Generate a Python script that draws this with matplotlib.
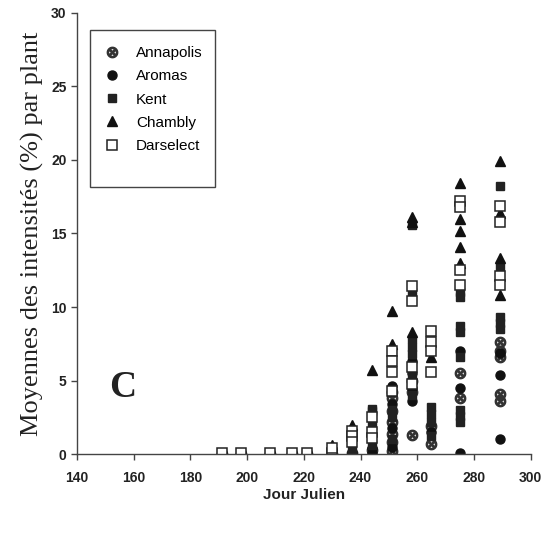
import matplotlib
matplotlib.use('Agg')
from matplotlib import pyplot as plt
from matplotlib.patches import Rectangle

# jour julien / intensite moyenne (%) par cultivar
annapolis_days = [191, 198, 208, 216, 221, 230, 237, 244,
                  251, 251, 251, 251, 251, 251, 251,
                  258, 258, 258, 265, 265, 275, 275,
                  289, 289, 289, 289, 289]
annapolis_vals = [0, 0, 0, 0, 0, 0, 0.1, 0.3,
                  4.2, 3.8, 2.9, 2.2, 1.4, 0.8, 0.2,
                  5.0, 4.2, 1.3, 1.9, 0.7, 5.5, 3.8,
                  7.6, 7.0, 6.6, 4.1, 3.6]

aromas_days = [191, 198, 208, 216, 221, 230, 237, 244, 244,
               251, 251, 251, 251, 258, 258, 258, 258,
               265, 275, 275, 275, 289, 289, 289]
aromas_vals = [0, 0, 0, 0, 0, 0, 0.1, 0.1, 0.4,
               4.6, 3.4, 1.8, 0.5, 6.3, 5.5, 4.5, 3.6,
               1.5, 7.0, 4.5, 0.1, 6.9, 5.4, 1.0]

kent_days = [191, 198, 208, 216, 221, 230, 237, 244, 244, 244, 244,
             251, 251, 251, 258, 258, 258, 258, 258, 258, 258,
             265, 265, 265, 265, 275, 275, 275, 275, 275, 275, 275, 275,
             289, 289, 289, 289, 289]
kent_vals = [0, 0, 0, 0, 0, 0, 0.3, 3.1, 2.9, 2.0, 0.6,
             3.0, 2.5, 1.0, 15.6, 11.0, 7.8, 7.3, 6.8, 5.3, 4.0,
             3.2, 2.7, 2.2, 1.2, 11.0, 10.7, 8.7, 8.3, 6.6, 3.0, 2.6, 2.2,
             18.2, 12.7, 9.3, 8.9, 8.5]

chambly_days = [191, 198, 208, 216, 221, 230, 237, 244, 251, 251,
                258, 258, 258, 265, 275, 275, 275, 275, 275,
                289, 289, 289, 289]
chambly_vals = [0, 0, 0, 0, 0, 0.6, 2.0, 5.7, 9.7, 7.5,
                16.1, 15.8, 8.3, 6.6, 18.4, 16.0, 15.2, 14.1, 13.0,
                19.9, 16.4, 13.3, 10.8]

darselect_days = [191, 198, 208, 216, 221, 230, 230, 237, 237, 237,
                  244, 244, 244, 251, 251, 251, 251, 258, 258, 258, 258,
                  265, 265, 265, 265, 275, 275, 275, 275, 289, 289, 289, 289]
darselect_vals = [0.1, 0.1, 0.1, 0.1, 0.1, 0.1, 0.4, 1.6, 1.2, 0.8,
                  2.5, 1.5, 1.1, 7.0, 6.3, 5.6, 4.3, 11.4, 10.4, 5.9, 4.8,
                  8.4, 7.6, 7.0, 5.6, 17.2, 16.8, 12.5, 11.5, 16.9, 15.8, 12.1, 11.5]

fig = plt.figure(figsize=(5.41, 5.33), dpi=100)
ax = fig.add_axes([0.142, 0.148, 0.839, 0.828])

ms = 6.5
ax.plot(annapolis_days, annapolis_vals, ls='none', marker=r'$\otimes$', ms=7.5,
        color='#333333', label='Annapolis')
ax.plot(aromas_days, aromas_vals, ls='none', marker='o', ms=ms,
        color='#111111', label='Aromas')
ax.plot(kent_days, kent_vals, ls='none', marker='s', ms=ms - 0.5,
        color='#222222', label='Kent')
ax.plot(chambly_days, chambly_vals, ls='none', marker='^', ms=ms + 1,
        color='#111111', label='Chambly')
ax.plot(darselect_days, darselect_vals, ls='none', marker='s', ms=ms,
        mfc='white', mec='#222222', mew=1.1, label='Darselect')

ax.set_xlim(140, 300)
ax.set_ylim(0, 30)
ax.set_xticks(range(140, 301, 20))
ax.set_yticks(range(0, 31, 5))
ax.spines['top'].set_visible(False)
ax.spines['right'].set_visible(False)
for s in ['left', 'bottom']:
    ax.spines[s].set_linewidth(1.0)
    ax.spines[s].set_color('#444444')
ax.tick_params(direction='out', length=4, width=1, color='#444444')
ax.tick_params(axis='x', pad=8)
for lab in ax.get_xticklabels() + ax.get_yticklabels():
    lab.set_fontfamily('Liberation Sans')
    lab.set_fontweight('bold')
    lab.set_fontsize(10)
    lab.set_color('#222222')

ax.set_xlabel('Jour Julien', family='Liberation Sans', weight='bold',
              fontsize=11, color='#222222', labelpad=2)
ax.set_ylabel('Moyennes des intensités (%) par plant', family='Liberation Serif',
              fontsize=19, color='#222222', labelpad=5)

ax.text(156, 4.5, 'C', family='Liberation Serif', weight='bold', fontsize=27,
        ha='center', va='center', color='#222222')

# cadre de la legende
ax.add_patch(Rectangle((0.0286, 0.605), 0.275, 0.356, transform=ax.transAxes,
                       fill=False, edgecolor='#444444', lw=1.0, zorder=5))
leg = ax.legend(loc='upper left', bbox_to_anchor=(0.06, 0.924), frameon=False,
                borderpad=0, labelspacing=0.6, handlelength=1.0,
                handletextpad=1.1, borderaxespad=0,
                prop={'family': 'Liberation Sans', 'size': 11})

fig.savefig('out.png', dpi=100)
